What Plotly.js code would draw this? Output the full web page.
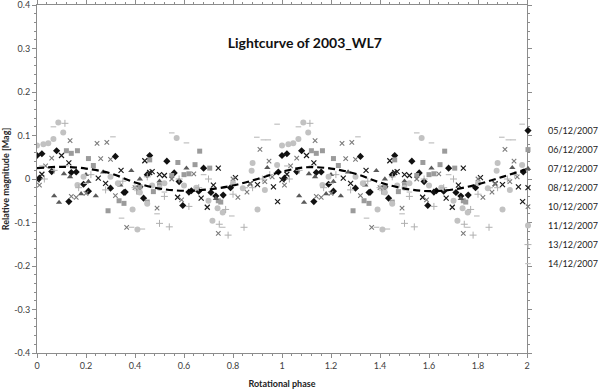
<!DOCTYPE html>
<html>
<head>
<meta charset="utf-8">
<script src="https://cdn.plot.ly/plotly-3.0.1.min.js"></script>
<style>
  html, body { margin: 0; padding: 0; background: #fff; }
  #lightcurve { width: 600px; height: 389px; }
</style>
</head>
<body>
<div id="lightcurve"></div>
<script>
// phase / relative magnitude per night, read over one rotation (0-1);
// the chart shows the same folded data twice (0-2)
var phase0512 = [0.00, 0.01, 0.02, 0.06, 0.08, 0.13, 0.14, 0.16, 0.19, 0.21, 0.30, 0.32, 0.355, 0.36, 0.42, 0.435, 0.45, 0.46, 0.53, 0.56, 0.58, 0.595, 0.62, 0.63, 0.66, 0.68, 0.71, 0.73, 0.76, 0.79, 0.985];
var mag0512   = [0.054, 0.002, 0.058, 0.017, 0.065, -0.052, 0.015, 0.016, -0.012, -0.028, -0.021, 0.052, -0.031, -0.030, -0.018, -0.044, 0.010, 0.054, 0.041, 0.014, -0.006, -0.061, -0.030, -0.027, -0.028, 0.025, -0.031, -0.039, -0.037, -0.020, 0.016];

var phase0612 = [0.12, 0.14, 0.165, 0.21, 0.23, 0.29, 0.335, 0.355, 0.415, 0.42, 0.45, 0.46, 0.475, 0.50, 0.55, 0.575, 0.60, 0.62, 0.645, 0.664, 0.705, 0.74, 0.75];
var mag0612   = [0.065, 0.059, 0.065, 0.047, 0.031, -0.073, -0.050, -0.056, -0.030, -0.018, -0.053, 0.044, -0.029, -0.015, 0.008, 0.038, 0.010, 0.012, 0.033, 0.064, 0.025, -0.050, -0.053];

var phase0712 = [0.07, 0.09, 0.11, 0.135, 0.18, 0.20, 0.21, 0.24, 0.27, 0.34, 0.385, 0.42, 0.50, 0.61, 0.73, 0.94];
var mag0712   = [-0.039, -0.054, 0.012, 0.005, -0.034, 0.010, -0.006, -0.039, 0.016, -0.014, 0.019, 0.000, -0.005, 0.025, -0.045, 0.026];

var phase0812 = [0.00, 0.02, 0.10, 0.13, 0.25, 0.28, 0.343, 0.44, 0.46, 0.47, 0.50, 0.52, 0.574, 0.67, 0.695, 0.72, 0.74, 0.81, 0.87, 0.90, 0.965, 0.982];
var mag0812   = [-0.002, 0.011, 0.054, 0.037, 0.002, -0.010, 0.020, 0.042, 0.015, 0.017, 0.010, 0.008, -0.042, -0.044, -0.065, -0.014, 0.025, 0.003, -0.011, -0.013, -0.018, -0.052];

var phase1012 = [0.01, 0.035, 0.06, 0.135, 0.14, 0.16, 0.20, 0.245, 0.26, 0.285, 0.30, 0.32, 0.366, 0.40, 0.49, 0.55, 0.59, 0.64, 0.74, 0.80, 0.82, 0.857, 0.87, 0.91, 0.93, 0.947, 0.96];
var mag1012   = [-0.014, 0.030, 0.048, 0.088, -0.040, -0.042, -0.033, 0.082, 0.047, 0.084, 0.045, -0.038, -0.111, -0.020, -0.067, 0.000, -0.048, 0.012, -0.125, 0.000, -0.042, -0.030, -0.012, 0.068, -0.006, 0.041, 0.005];

var phase1112 = [0.00, 0.026, 0.046, 0.067, 0.087, 0.107, 0.165, 0.19, 0.30, 0.33, 0.39, 0.41, 0.42, 0.45, 0.47, 0.50, 0.52, 0.57, 0.60, 0.65, 0.70, 0.716, 0.737, 0.758, 0.80, 0.84, 0.876, 0.88, 0.90, 0.93, 0.98];
var mag1112   = [0.077, 0.080, 0.082, 0.092, 0.130, 0.107, -0.014, 0.005, 0.005, -0.010, -0.070, -0.116, -0.031, -0.057, -0.015, -0.020, -0.010, 0.094, -0.015, -0.020, -0.050, -0.096, -0.067, -0.077, -0.010, -0.021, 0.019, 0.037, -0.070, -0.025, 0.032];

var phase1312 = [0.03, 0.07, 0.114, 0.17, 0.22, 0.28, 0.35, 0.40, 0.45, 0.50, 0.52, 0.54, 0.58, 0.62, 0.66, 0.70, 0.744, 0.77, 0.78, 0.80, 0.845, 0.88, 0.92, 0.95];
var mag1312   = [0.000, 0.020, 0.128, -0.020, 0.010, -0.025, -0.005, -0.020, 0.005, -0.102, -0.040, -0.110, 0.000, -0.063, -0.020, 0.000, -0.104, -0.070, -0.129, -0.035, -0.111, -0.020, 0.000, 0.010];

var phase1412 = [0.02, 0.067, 0.12, 0.20, 0.31, 0.345, 0.386, 0.43, 0.49, 0.52, 0.55, 0.61, 0.68, 0.758, 0.795, 0.85, 0.897, 0.924, 0.944, 0.98];
var mag1412   = [0.030, 0.120, 0.030, -0.010, 0.097, -0.090, -0.111, -0.115, -0.080, -0.030, 0.106, 0.083, 0.010, -0.111, -0.085, -0.020, 0.096, 0.090, 0.090, 0.126];

// fitted curve (dashed), read over the whole 0-2 range
var fitPhase = [0.0, 0.1, 0.2, 0.3, 0.4, 0.5, 0.6, 0.7, 0.8, 0.9, 1.0, 1.1, 1.2, 1.3, 1.4, 1.5, 1.6, 1.7, 1.8, 1.9, 2.0];
var fitMag   = [0.025, 0.028, 0.024, 0.013, -0.008, -0.022, -0.027, -0.024, -0.015, 0.000, 0.017, 0.027, 0.024, 0.012, -0.008, -0.022, -0.028, -0.024, -0.012, 0.005, 0.023];

var xTicks = [0, 0.2, 0.4, 0.6, 0.8, 1, 1.2, 1.4, 1.6, 1.8, 2];
var xLabels = ['0', '0.2', '0.4', '0.6', '0.8', '1', '1.2', '1.4', '1.6', '1.8', '2'];
var yTicks = [-0.4, -0.3, -0.2, -0.1, 0, 0.1, 0.2, 0.3, 0.4];
var yLabels = ['-0.4', '-0.3', '-0.2', '-0.1', '0', '0.1', '0.2', '0.3', '0.4'];

function twoCycles(arr) {
  return arr.concat(arr.map(function (p) { return p + 1; }));
}

var nights = [
  { name: '05/12/2007', phase: phase0512, mag: mag0512, marker: { symbol: 'diamond', size: 5.5, color: '#111111' } },
  { name: '06/12/2007', phase: phase0612, mag: mag0612, marker: { symbol: 'square', size: 5, color: '#9b9b9b' } },
  { name: '07/12/2007', phase: phase0712, mag: mag0712, marker: { symbol: 'triangle-up', size: 5.5, color: '#5a5a5a' } },
  { name: '08/12/2007', phase: phase0812, mag: mag0812, marker: { symbol: 'x-thin', size: 5, line: { color: '#1a1a1a', width: 1.2 } } },
  { name: '10/12/2007', phase: phase1012, mag: mag1012, marker: { symbol: 'x-thin', size: 4.5, line: { color: '#7a7a7a', width: 1.1 } } },
  { name: '11/12/2007', phase: phase1112, mag: mag1112, marker: { symbol: 'circle', size: 6, color: '#c2c2c2' } },
  { name: '13/12/2007', phase: phase1312, mag: mag1312, marker: { symbol: 'cross-thin', size: 5, line: { color: '#b0b0b0', width: 1 } } },
  { name: '14/12/2007', phase: phase1412, mag: mag1412, marker: { symbol: 'line-ew', size: 4, line: { color: '#c0c0c0', width: 1.2 } } }
];

var traces = [];

for (var i = 0; i < nights.length; i++) {
  var night = nights[i];
  traces.push({
    x: twoCycles(night.phase),
    y: night.mag.concat(night.mag),
    mode: 'markers',
    type: 'scatter',
    name: night.name,
    marker: night.marker
  });
}

traces.push({
  x: fitPhase,
  y: fitMag,
  mode: 'lines',
  type: 'scatter',
  showlegend: false,
  line: { color: '#000000', width: 2.2, dash: '7px,4px', shape: 'spline' }
});

var axisFont = { family: 'Lato, sans-serif', size: 9, color: '#404040' };

var layout = {
  width: 600,
  height: 389,
  paper_bgcolor: '#ffffff',
  plot_bgcolor: '#ffffff',
  title: {
    text: 'Lightcurve of 2003_WL7',
    font: { family: 'Lato, sans-serif', size: 14, color: '#111111', weight: 'bold' },
    x: 0.508,
    xanchor: 'center',
    y: 0.889,
    yanchor: 'middle'
  },
  xaxis: {
    range: [0, 2],
    tickmode: 'array',
    tickvals: xTicks,
    ticktext: xLabels,
    ticks: 'outside',
    ticklen: 4,
    tickcolor: '#8c8c8c',
    showline: true,
    linecolor: '#8c8c8c',
    mirror: 'allticks',
    showgrid: false,
    zeroline: false,
    tickfont: axisFont,
    ticklabeloverflow: 'allow',
    minor: { tickmode: 'linear', tick0: 0, dtick: 0.04, ticks: 'outside', ticklen: 2, tickcolor: '#8c8c8c' },
    title: { text: 'Rotational phase', standoff: 10, font: { family: 'Lato, sans-serif', size: 9, color: '#222222', weight: 'bold' } }
  },
  yaxis: {
    range: [-0.4, 0.4],
    tickmode: 'array',
    tickvals: yTicks,
    ticktext: yLabels,
    ticks: 'outside',
    ticklen: 4,
    tickcolor: '#8c8c8c',
    showline: true,
    linecolor: '#8c8c8c',
    mirror: 'allticks',
    showgrid: false,
    zeroline: false,
    tickfont: axisFont,
    ticklabeloverflow: 'allow',
    minor: { tickmode: 'linear', tick0: 0, dtick: 0.02, ticks: 'outside', ticklen: 2, tickcolor: '#8c8c8c' },
    title: { text: 'Relative magnitude [Mag]', standoff: 4, font: { family: 'Lato, sans-serif', size: 9, color: '#222222', weight: 'bold' } }
  },
  showlegend: true,
  legend: {
    x: 0.9612,
    xanchor: 'left',
    y: 0.448,
    yanchor: 'middle',
    font: { family: 'Lato, sans-serif', size: 9, color: '#222222' },
    bgcolor: 'rgba(0,0,0,0)',
    borderwidth: 0
  },
  margin: { l: 37, r: 73, t: 5, b: 36, autoexpand: false }
};

Plotly.newPlot('lightcurve', traces, layout, { displayModeBar: false, staticPlot: true });
</script>
</body>
</html>
